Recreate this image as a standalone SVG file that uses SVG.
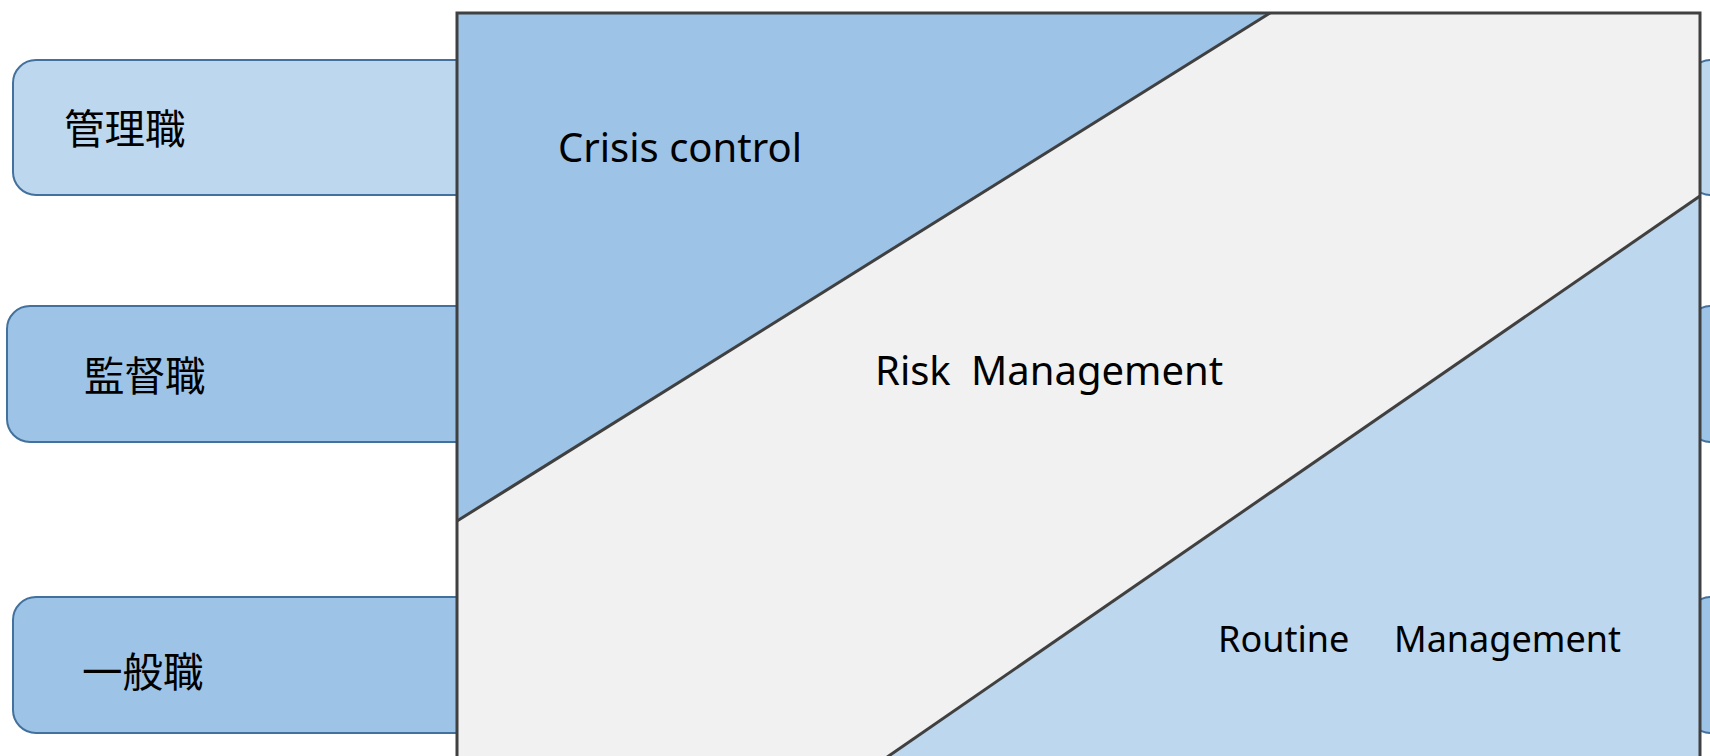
<svg xmlns="http://www.w3.org/2000/svg" width="1710" height="756" viewBox="0 0 1710 756">
  <style>
    .role { stroke: #41719C; stroke-width: 2; }
    .light { fill: #BDD7EE; }
    .mid { fill: #9DC3E6; }
    .grey { fill: #F1F1F1; }
    .edge { fill: none; stroke: #404040; stroke-width: 3; stroke-linejoin: miter; }
    .jp { font-family: "Noto Sans CJK JP", "Noto Sans CJK SC", sans-serif; font-size: 40.5px; fill: #000; dominant-baseline: central; }
    .en { font-family: "Noto Sans", "Open Sans", sans-serif; fill: #000; dominant-baseline: central; white-space: pre; }
  </style>
  <rect width="1710" height="756" fill="#FFFFFF"/>

  <!-- role tabs on the left -->
  <g id="role-manager">
    <rect class="role light" x="13" y="60" width="480" height="135" rx="23"/>
    <text class="jp" x="64" y="126">管理職</text>
  </g>
  <g id="role-supervisor">
    <rect class="role mid" x="7" y="306" width="480" height="136" rx="23"/>
    <text class="jp" x="84" y="373">監督職</text>
  </g>
  <g id="role-general">
    <rect class="role mid" x="13" y="597" width="480" height="136" rx="23"/>
    <text class="jp" x="82" y="669">一般職</text>
  </g>

  <!-- tabs continuing on the right -->
  <g id="right-tabs">
    <rect class="role light" x="1688" y="60" width="120" height="135" rx="23"/>
    <rect class="role mid" x="1688" y="306" width="120" height="136" rx="23"/>
    <rect class="role mid" x="1688" y="597" width="120" height="136" rx="23"/>
  </g>

  <!-- management bands -->
  <g id="band-crisis">
    <polygon class="mid" points="457,13 1270,13 457,521"/>
    <text class="en" x="558" y="146" font-size="40">Crisis control</text>
  </g>
  <g id="band-risk">
    <polygon class="grey" points="1270,13 1700,13 1700,196 880,762 457,762 457,521"/>
    <text class="en" x="875" y="369" font-size="40">Risk<tspan x="971">Management</tspan></text>
  </g>
  <g id="band-routine">
    <polygon class="light" points="1700,196 1700,762 880,762"/>
    <text class="en" x="1218" y="638" font-size="36">Routine<tspan x="1394">Management</tspan></text>
  </g>

  <!-- outline and dividing lines -->
  <g id="connectors">
    <polyline class="edge" points="457,770 457,13 1700,13 1700,770"/>
    <line class="edge" x1="457" y1="521" x2="1270" y2="13"/>
    <line class="edge" x1="1700" y1="196" x2="880" y2="762"/>
  </g>
</svg>
